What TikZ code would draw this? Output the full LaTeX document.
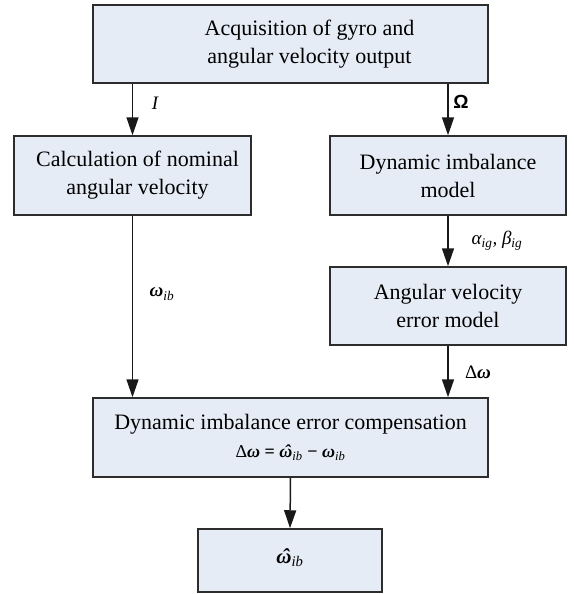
\documentclass[tikz,border=0pt]{standalone}
\usepackage{fontspec}
\IfFontExistsTF{Liberation Serif}{\setmainfont{Liberation Serif}}{}
\setsansfont{Liberation Sans}
\usetikzlibrary{arrows.meta}
\definecolor{boxfill}{RGB}{230,236,246}
\definecolor{boxline}{RGB}{45,45,45}
\newcommand{\wbold}{{\bfseries\itshape ω}}
\newcommand{\wib}{\wbold\textsubscript{\itshape ib}}
\newcommand{\what}{{\bfseries\itshape\ooalign{ω\cr\hidewidth\kern0.15em\char"02C6\hidewidth\cr}}}
\newcommand{\whib}{\what\textsubscript{\itshape ib}}
\begin{document}
\begin{tikzpicture}[x=1pt,y=-1pt,font=\fontsize{22}{28}\selectfont,block/.style={shape=rectangle,draw=boxline,fill=boxfill,line width=1.5pt,align=center,inner sep=0pt},flow/.style={line width=1.5pt,draw=black!90,-{Triangle[length=18pt,width=12pt]}},lbl/.style={font=\fontsize{19}{21}\selectfont}]
\useasboundingbox (0,0) rectangle (573,594);

\node[block,minimum width=395pt,minimum height=78pt] (acq) at (290.5,44) {\hspace*{38pt}Acquisition of gyro and\\\hspace*{38pt}angular velocity output};

\node[block,minimum width=237pt,minimum height=79pt] (nom) at (132.5,175.5) {\hspace*{10pt}Calculation of nominal\\\hspace*{10pt}angular velocity};
\node[block,minimum width=236pt,minimum height=79pt] (imb) at (448,175.5) {Dynamic imbalance\\model};
\node[block,minimum width=236pt,minimum height=78pt] (err) at (448,306) {Angular velocity\\error model};

\node[block,minimum width=395pt,minimum height=79pt] (comp) at (290.5,437.5) {Dynamic imbalance error compensation\\[0pt]{\fontsize{18}{20}\selectfont Δ\wbold\ \textbf{=} \whib\ \textbf{−} \wib}};
\node[block,minimum width=184pt,minimum height=63pt] (out) at (290,560.5) {{\fontsize{21}{22}\selectfont\whib}};

\draw[flow] (acq.south -| nom.north) -- (nom.north);
\draw[flow] (acq.south -| imb.north) -- (imb.north);
\draw[flow] (imb.south) -- (err.north);
\draw[flow] (nom.south) -- (comp.north -| nom.south);
\draw[flow] (err.south) -- (comp.north -| err.south);
\draw[flow] (comp.south) -- (out.north);

\node[lbl] (lI) at (155,103) {\itshape I};
\node[lbl] (lO) at (461,102) {\sffamily\bfseries Ω};
\node[lbl] (lab) at (497,241) {\itshape α\textsubscript{ig}, β\textsubscript{ig}};
\node[lbl] (lw) at (162,294) {\wib};
\node[lbl] (ldw) at (478,372) {Δ\wbold};
\end{tikzpicture}
\end{document}
